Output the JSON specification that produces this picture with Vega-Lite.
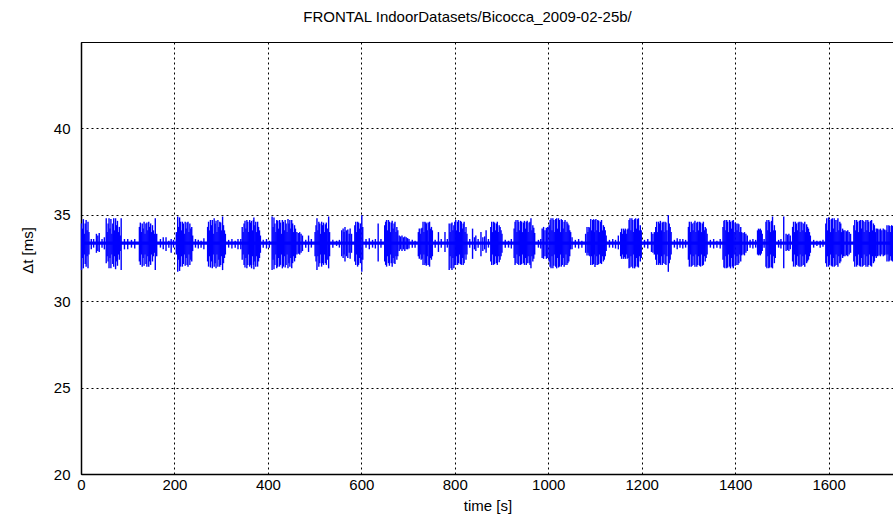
{
"$schema":"https://vega.github.io/schema/vega-lite/v6.json",
"width":813,"height":432,
"autosize":{"type":"none"},
"padding":{"left":81,"top":42,"right":0,"bottom":45},
"background":"white",
"title":{"text":"FRONTAL IndoorDatasets/Bicocca_2009-02-25b/","font":"Liberation Sans","fontSize":15,"fontWeight":"normal","color":"black","offset":17,"anchor":"middle","dx":-20},
"config":{"view":{"stroke":"black","strokeWidth":1}},
"datasets":{
"base":[{"t0":0,"t1":1740,"lo":33.26,"hi":33.46}],
"sig":[
{"t":1,"lo":31.8,"hi":34.5},{"t":3,"lo":32.5,"hi":34.2},{"t":5,"lo":31.9,"hi":34.75},{"t":7,"lo":32.7,"hi":33.9},{"t":9,"lo":32.15,"hi":34.5},{"t":11,"lo":32.0,"hi":34.7},{"t":13,"lo":32.6,"hi":34.1},{"t":15,"lo":31.9,"hi":34.6},{"t":17,"lo":32.7,"hi":34.0},
{"t":22,"lo":33.0,"hi":33.6},{"t":27,"lo":33.1,"hi":33.6},{"t":33,"lo":32.8,"hi":33.9},{"t":36,"lo":32.9,"hi":33.8},{"t":39,"lo":32.85,"hi":33.95},{"t":45,"lo":33.1,"hi":33.6},{"t":50,"lo":33.0,"hi":33.7},
{"t":54,"lo":32.2,"hi":34.8},{"t":56,"lo":32.6,"hi":34.0},{"t":58,"lo":32.3,"hi":34.5},{"t":60,"lo":31.9,"hi":34.8},{"t":62,"lo":32.5,"hi":34.2},{"t":64,"lo":31.9,"hi":34.75},{"t":66,"lo":32.7,"hi":33.9},{"t":68,"lo":32.15,"hi":34.5},{"t":70,"lo":32.0,"hi":34.8},{"t":72,"lo":32.6,"hi":34.1},{"t":74,"lo":31.85,"hi":34.8},{"t":76,"lo":32.3,"hi":34.4},{"t":78,"lo":32.05,"hi":34.65},{"t":80,"lo":32.7,"hi":34.0},{"t":82,"lo":32.4,"hi":34.3},{"t":84,"lo":32.9,"hi":33.8},{"t":86,"lo":31.8,"hi":34.8},
{"t":93,"lo":33.0,"hi":33.6},{"t":100,"lo":33.0,"hi":33.6},{"t":108,"lo":33.1,"hi":33.55},{"t":115,"lo":33.05,"hi":33.6},
{"t":125,"lo":32.3,"hi":34.3},{"t":127,"lo":32.1,"hi":34.55},{"t":129,"lo":32.7,"hi":34.0},{"t":131,"lo":32.0,"hi":34.5},{"t":133,"lo":32.5,"hi":34.2},{"t":135,"lo":32.05,"hi":34.6},{"t":137,"lo":32.7,"hi":33.9},{"t":139,"lo":32.15,"hi":34.5},{"t":141,"lo":32.0,"hi":34.55},{"t":143,"lo":32.6,"hi":34.1},{"t":145,"lo":32.0,"hi":34.6},{"t":147,"lo":32.3,"hi":34.3},{"t":149,"lo":32.1,"hi":34.5},{"t":151,"lo":32.7,"hi":34.0},{"t":153,"lo":32.3,"hi":34.4},{"t":155,"lo":32.6,"hi":34.1},{"t":157,"lo":32.8,"hi":33.9},{"t":159,"lo":31.8,"hi":34.8},{"t":162,"lo":32.6,"hi":33.9},
{"t":170,"lo":33.1,"hi":33.6},{"t":176,"lo":33.0,"hi":33.7},{"t":182,"lo":32.9,"hi":33.7},{"t":188,"lo":33.1,"hi":33.5},{"t":193,"lo":32.8,"hi":33.6},{"t":198,"lo":33.1,"hi":33.55},
{"t":204,"lo":32.7,"hi":34.0},{"t":207,"lo":31.7,"hi":34.9},{"t":209,"lo":32.4,"hi":34.3},{"t":211,"lo":31.75,"hi":34.85},{"t":213,"lo":32.0,"hi":34.6},{"t":215,"lo":32.6,"hi":34.1},{"t":217,"lo":32.0,"hi":34.6},{"t":219,"lo":32.15,"hi":34.5},{"t":221,"lo":32.7,"hi":33.9},{"t":223,"lo":32.05,"hi":34.6},{"t":225,"lo":32.5,"hi":34.2},{"t":227,"lo":32.1,"hi":34.55},{"t":229,"lo":32.0,"hi":34.6},{"t":231,"lo":32.7,"hi":34.0},{"t":233,"lo":32.1,"hi":34.5},{"t":235,"lo":32.4,"hi":34.2},{"t":237,"lo":32.3,"hi":34.3},{"t":239,"lo":32.9,"hi":33.8},
{"t":245,"lo":33.1,"hi":33.6},{"t":251,"lo":33.05,"hi":33.55},{"t":257,"lo":33.1,"hi":33.5},{"t":263,"lo":33.0,"hi":33.65},
{"t":271,"lo":32.3,"hi":34.3},{"t":273,"lo":32.0,"hi":34.6},{"t":275,"lo":32.6,"hi":34.1},{"t":277,"lo":31.95,"hi":34.7},{"t":279,"lo":32.3,"hi":34.4},{"t":281,"lo":31.9,"hi":34.7},{"t":283,"lo":32.7,"hi":33.9},{"t":285,"lo":32.0,"hi":34.8},{"t":287,"lo":32.2,"hi":34.5},{"t":289,"lo":31.9,"hi":34.65},{"t":291,"lo":32.7,"hi":34.0},{"t":293,"lo":32.0,"hi":34.7},{"t":295,"lo":32.4,"hi":34.3},{"t":297,"lo":32.0,"hi":34.6},{"t":299,"lo":32.1,"hi":34.55},{"t":301,"lo":32.6,"hi":34.1},{"t":303,"lo":31.8,"hi":34.9},{"t":305,"lo":32.2,"hi":34.4},{"t":307,"lo":32.5,"hi":34.1},{"t":309,"lo":32.7,"hi":33.9},
{"t":316,"lo":33.1,"hi":33.55},{"t":323,"lo":33.05,"hi":33.6},{"t":330,"lo":33.1,"hi":33.5},{"t":336,"lo":33.0,"hi":33.6},{"t":342,"lo":33.0,"hi":33.6},
{"t":345,"lo":32.4,"hi":34.3},{"t":347,"lo":32.7,"hi":34.0},{"t":349,"lo":32.1,"hi":34.5},{"t":351,"lo":31.95,"hi":34.65},{"t":353,"lo":32.5,"hi":34.2},{"t":355,"lo":31.9,"hi":34.7},{"t":357,"lo":32.1,"hi":34.6},{"t":359,"lo":32.7,"hi":34.0},{"t":361,"lo":32.0,"hi":34.7},{"t":363,"lo":32.1,"hi":34.55},{"t":365,"lo":31.9,"hi":34.65},{"t":367,"lo":32.6,"hi":34.1},{"t":369,"lo":32.1,"hi":34.7},{"t":370,"lo":31.85,"hi":34.85},{"t":372,"lo":32.3,"hi":34.4},{"t":374,"lo":32.0,"hi":34.6},{"t":376,"lo":32.6,"hi":34.0},{"t":378,"lo":32.0,"hi":34.6},{"t":380,"lo":32.3,"hi":34.3},{"t":382,"lo":32.5,"hi":34.1},{"t":384,"lo":32.8,"hi":33.8},
{"t":390,"lo":33.1,"hi":33.55},{"t":397,"lo":33.05,"hi":33.6},{"t":403,"lo":33.1,"hi":33.5},
{"t":409,"lo":31.8,"hi":34.9},{"t":411,"lo":32.4,"hi":34.3},{"t":413,"lo":31.85,"hi":34.85},{"t":415,"lo":32.1,"hi":34.5},{"t":417,"lo":32.7,"hi":34.0},{"t":419,"lo":31.9,"hi":34.7},{"t":421,"lo":32.0,"hi":34.65},{"t":423,"lo":32.5,"hi":34.2},{"t":425,"lo":32.0,"hi":34.7},{"t":427,"lo":32.1,"hi":34.55},{"t":429,"lo":32.7,"hi":33.9},{"t":431,"lo":31.9,"hi":34.7},{"t":433,"lo":32.0,"hi":34.6},{"t":435,"lo":32.6,"hi":34.1},{"t":437,"lo":31.95,"hi":34.7},{"t":439,"lo":32.1,"hi":34.5},{"t":441,"lo":32.7,"hi":34.0},{"t":443,"lo":31.9,"hi":34.75},{"t":445,"lo":32.2,"hi":34.5},{"t":447,"lo":32.0,"hi":34.7},{"t":449,"lo":32.5,"hi":34.2},{"t":451,"lo":31.9,"hi":34.7},{"t":453,"lo":32.2,"hi":34.5},{"t":455,"lo":32.6,"hi":34.0},{"t":457,"lo":32.3,"hi":34.4},{"t":459,"lo":32.5,"hi":34.2},{"t":462,"lo":32.7,"hi":34.0},{"t":465,"lo":32.75,"hi":33.95},{"t":468,"lo":32.7,"hi":34.0},{"t":471,"lo":32.8,"hi":33.9},{"t":474,"lo":32.9,"hi":33.8},
{"t":481,"lo":33.1,"hi":33.55},{"t":487,"lo":32.85,"hi":33.8},{"t":493,"lo":33.1,"hi":33.6},
{"t":501,"lo":32.6,"hi":34.0},{"t":503,"lo":32.3,"hi":34.4},{"t":505,"lo":31.8,"hi":34.8},{"t":507,"lo":32.6,"hi":34.1},{"t":509,"lo":32.0,"hi":34.6},{"t":511,"lo":32.2,"hi":34.5},{"t":513,"lo":32.7,"hi":33.9},{"t":515,"lo":32.0,"hi":34.6},{"t":517,"lo":32.2,"hi":34.4},{"t":519,"lo":32.1,"hi":34.55},{"t":521,"lo":32.7,"hi":34.0},{"t":523,"lo":32.2,"hi":34.45},{"t":525,"lo":32.1,"hi":34.55},{"t":527,"lo":32.4,"hi":34.2},{"t":530,"lo":31.9,"hi":34.9},{"t":532,"lo":32.6,"hi":34.0},
{"t":539,"lo":33.1,"hi":33.55},{"t":547,"lo":33.2,"hi":33.5},{"t":553,"lo":33.1,"hi":33.55},
{"t":558,"lo":32.6,"hi":34.1},{"t":561,"lo":32.5,"hi":34.2},{"t":563,"lo":32.7,"hi":34.0},{"t":565,"lo":32.3,"hi":34.3},{"t":568,"lo":32.6,"hi":34.1},{"t":571,"lo":32.5,"hi":34.15},{"t":574,"lo":32.8,"hi":33.9},{"t":576,"lo":32.45,"hi":34.2},{"t":579,"lo":32.8,"hi":33.9},
{"t":586,"lo":32.3,"hi":34.4},{"t":588,"lo":32.1,"hi":34.6},{"t":590,"lo":32.7,"hi":34.0},{"t":592,"lo":32.0,"hi":34.6},{"t":594,"lo":32.1,"hi":34.55},{"t":596,"lo":32.5,"hi":34.2},{"t":598,"lo":32.2,"hi":34.5},{"t":601,"lo":31.7,"hi":34.98},{"t":603,"lo":32.4,"hi":34.3},
{"t":610,"lo":33.1,"hi":33.6},{"t":617,"lo":33.0,"hi":33.65},{"t":624,"lo":33.1,"hi":33.55},{"t":630,"lo":33.05,"hi":33.6},{"t":636,"lo":32.3,"hi":34.5},{"t":642,"lo":33.1,"hi":33.6},
{"t":650,"lo":32.3,"hi":34.4},{"t":652,"lo":32.1,"hi":34.6},{"t":654,"lo":32.0,"hi":34.7},{"t":656,"lo":32.6,"hi":34.1},{"t":658,"lo":32.2,"hi":34.7},{"t":660,"lo":32.05,"hi":34.6},{"t":662,"lo":32.7,"hi":34.0},{"t":664,"lo":32.2,"hi":34.55},{"t":666,"lo":32.0,"hi":34.65},{"t":668,"lo":32.5,"hi":34.2},{"t":670,"lo":32.2,"hi":34.5},{"t":672,"lo":32.15,"hi":34.6},{"t":674,"lo":32.6,"hi":34.0},{"t":676,"lo":32.4,"hi":34.3},{"t":678,"lo":32.6,"hi":34.1},
{"t":681,"lo":32.9,"hi":33.8},{"t":684,"lo":33.0,"hi":33.75},{"t":687,"lo":32.9,"hi":33.8},{"t":690,"lo":33.0,"hi":33.7},{"t":693,"lo":32.9,"hi":33.75},{"t":696,"lo":33.0,"hi":33.7},{"t":699,"lo":33.0,"hi":33.65},{"t":702,"lo":33.05,"hi":33.6},{"t":709,"lo":33.1,"hi":33.55},{"t":715,"lo":33.1,"hi":33.5},
{"t":722,"lo":32.6,"hi":34.0},{"t":724,"lo":32.45,"hi":34.2},{"t":726,"lo":32.7,"hi":33.9},{"t":728,"lo":32.4,"hi":34.2},{"t":730,"lo":32.45,"hi":34.25},{"t":732,"lo":32.1,"hi":34.6},{"t":734,"lo":32.7,"hi":34.0},{"t":736,"lo":32.1,"hi":34.6},{"t":738,"lo":32.2,"hi":34.55},{"t":739,"lo":32.05,"hi":34.5},{"t":741,"lo":32.6,"hi":34.1},{"t":743,"lo":32.1,"hi":34.55},{"t":746,"lo":32.0,"hi":34.6},{"t":748,"lo":32.5,"hi":34.2},{"t":750,"lo":32.4,"hi":34.3},{"t":752,"lo":32.6,"hi":34.1},
{"t":758,"lo":33.1,"hi":33.55},{"t":765,"lo":32.85,"hi":34.0},{"t":771,"lo":33.1,"hi":33.6},{"t":779,"lo":32.85,"hi":34.0},{"t":784,"lo":33.1,"hi":33.6},
{"t":788,"lo":31.8,"hi":34.5},{"t":790,"lo":32.6,"hi":34.0},{"t":792,"lo":31.9,"hi":34.5},{"t":794,"lo":31.8,"hi":34.55},{"t":796,"lo":32.5,"hi":34.1},{"t":798,"lo":31.9,"hi":34.4},{"t":800,"lo":32.1,"hi":34.6},{"t":802,"lo":32.1,"hi":34.7},{"t":804,"lo":32.6,"hi":34.1},{"t":806,"lo":32.1,"hi":34.6},{"t":808,"lo":32.2,"hi":34.7},{"t":810,"lo":32.7,"hi":34.0},{"t":812,"lo":32.15,"hi":34.65},{"t":814,"lo":32.1,"hi":34.6},{"t":816,"lo":32.5,"hi":34.2},{"t":818,"lo":32.1,"hi":34.5},{"t":820,"lo":32.2,"hi":34.6},{"t":822,"lo":32.7,"hi":34.0},{"t":824,"lo":32.4,"hi":34.3},{"t":826,"lo":32.7,"hi":33.9},
{"t":832,"lo":33.1,"hi":33.6},{"t":838,"lo":32.45,"hi":34.2},{"t":842,"lo":33.0,"hi":33.7},{"t":845,"lo":32.9,"hi":33.8},{"t":850,"lo":33.1,"hi":33.6},{"t":856,"lo":32.6,"hi":34.0},{"t":860,"lo":32.9,"hi":33.7},{"t":864,"lo":33.0,"hi":33.75},{"t":867,"lo":32.8,"hi":34.1},{"t":872,"lo":33.1,"hi":33.6},
{"t":877,"lo":32.3,"hi":34.3},{"t":879,"lo":32.1,"hi":34.6},{"t":881,"lo":32.7,"hi":34.0},{"t":883,"lo":32.1,"hi":34.6},{"t":885,"lo":32.15,"hi":34.55},{"t":887,"lo":32.6,"hi":34.1},{"t":889,"lo":32.2,"hi":34.5},{"t":891,"lo":32.1,"hi":34.6},{"t":893,"lo":32.6,"hi":34.0},{"t":895,"lo":32.25,"hi":34.4},{"t":897,"lo":32.4,"hi":34.3},{"t":899,"lo":32.6,"hi":34.1},{"t":901,"lo":32.8,"hi":33.9},
{"t":908,"lo":33.1,"hi":33.55},{"t":915,"lo":33.1,"hi":33.5},{"t":921,"lo":33.05,"hi":33.6},
{"t":927,"lo":32.5,"hi":34.2},{"t":929,"lo":32.1,"hi":34.6},{"t":931,"lo":32.2,"hi":34.7},{"t":933,"lo":32.7,"hi":34.0},{"t":935,"lo":32.15,"hi":34.7},{"t":937,"lo":32.1,"hi":34.6},{"t":939,"lo":32.6,"hi":34.1},{"t":941,"lo":32.1,"hi":34.65},{"t":943,"lo":32.15,"hi":34.6},{"t":945,"lo":32.7,"hi":34.0},{"t":947,"lo":32.2,"hi":34.55},{"t":949,"lo":32.1,"hi":34.65},{"t":951,"lo":32.5,"hi":34.2},{"t":953,"lo":32.1,"hi":34.6},{"t":955,"lo":32.2,"hi":34.65},{"t":957,"lo":32.6,"hi":34.0},{"t":959,"lo":32.2,"hi":34.55},{"t":961,"lo":32.1,"hi":34.6},{"t":963,"lo":31.9,"hi":34.8},{"t":965,"lo":32.6,"hi":34.1},{"t":967,"lo":32.3,"hi":34.4},{"t":969,"lo":32.45,"hi":34.25},{"t":971,"lo":32.7,"hi":33.95},
{"t":979,"lo":33.1,"hi":33.55},{"t":984,"lo":33.05,"hi":33.6},
{"t":987,"lo":32.5,"hi":34.2},{"t":990,"lo":32.45,"hi":34.3},{"t":993,"lo":32.6,"hi":34.1},{"t":996,"lo":32.45,"hi":34.25},{"t":999,"lo":32.5,"hi":34.3},
{"t":1002,"lo":32.3,"hi":34.4},{"t":1004,"lo":32.0,"hi":34.7},{"t":1006,"lo":31.9,"hi":34.8},{"t":1008,"lo":32.6,"hi":34.1},{"t":1010,"lo":31.9,"hi":34.8},{"t":1012,"lo":32.05,"hi":34.7},{"t":1014,"lo":32.7,"hi":34.0},{"t":1016,"lo":32.0,"hi":34.75},{"t":1018,"lo":31.9,"hi":34.8},{"t":1020,"lo":32.5,"hi":34.2},{"t":1022,"lo":31.95,"hi":34.8},{"t":1024,"lo":32.0,"hi":34.7},{"t":1026,"lo":32.7,"hi":34.0},{"t":1028,"lo":32.0,"hi":34.75},{"t":1030,"lo":32.1,"hi":34.7},{"t":1032,"lo":32.5,"hi":34.2},{"t":1034,"lo":32.0,"hi":34.6},{"t":1036,"lo":32.1,"hi":34.7},{"t":1038,"lo":32.7,"hi":34.0},{"t":1040,"lo":32.1,"hi":34.6},{"t":1042,"lo":32.2,"hi":34.5},{"t":1044,"lo":32.3,"hi":34.4},{"t":1046,"lo":32.6,"hi":34.1},{"t":1048,"lo":33.0,"hi":34.0},{"t":1051,"lo":33.0,"hi":33.7},
{"t":1058,"lo":33.1,"hi":33.55},{"t":1065,"lo":33.05,"hi":33.6},{"t":1072,"lo":33.1,"hi":33.5},
{"t":1080,"lo":32.8,"hi":33.9},{"t":1083,"lo":32.65,"hi":34.3},{"t":1085,"lo":32.8,"hi":34.0},{"t":1087,"lo":32.65,"hi":34.3},{"t":1089,"lo":32.6,"hi":34.25},{"t":1091,"lo":32.1,"hi":34.75},{"t":1093,"lo":32.6,"hi":34.1},{"t":1095,"lo":32.1,"hi":34.7},{"t":1097,"lo":32.15,"hi":34.75},{"t":1099,"lo":32.7,"hi":34.0},{"t":1100,"lo":31.98,"hi":34.7},{"t":1102,"lo":32.1,"hi":34.75},{"t":1104,"lo":32.6,"hi":34.1},{"t":1106,"lo":32.1,"hi":34.7},{"t":1108,"lo":32.15,"hi":34.65},{"t":1110,"lo":32.7,"hi":34.0},{"t":1112,"lo":32.2,"hi":34.6},{"t":1114,"lo":32.15,"hi":34.7},{"t":1116,"lo":32.6,"hi":34.1},{"t":1118,"lo":32.3,"hi":34.4},{"t":1120,"lo":32.4,"hi":34.3},{"t":1122,"lo":32.6,"hi":34.1},{"t":1124,"lo":32.9,"hi":33.8},
{"t":1131,"lo":33.1,"hi":33.55},{"t":1138,"lo":33.1,"hi":33.6},{"t":1144,"lo":33.05,"hi":33.55},{"t":1150,"lo":33.0,"hi":33.8},
{"t":1155,"lo":32.6,"hi":34.0},{"t":1157,"lo":32.45,"hi":34.2},{"t":1159,"lo":32.7,"hi":33.9},{"t":1161,"lo":32.45,"hi":34.2},{"t":1163,"lo":32.55,"hi":34.1},{"t":1165,"lo":32.45,"hi":34.2},{"t":1167,"lo":32.7,"hi":33.9},{"t":1169,"lo":32.45,"hi":34.15},{"t":1171,"lo":32.5,"hi":34.2},{"t":1173,"lo":31.9,"hi":34.7},{"t":1175,"lo":31.95,"hi":34.8},{"t":1177,"lo":32.6,"hi":34.1},{"t":1179,"lo":32.0,"hi":34.8},{"t":1181,"lo":31.9,"hi":34.7},{"t":1183,"lo":32.7,"hi":34.0},{"t":1185,"lo":31.9,"hi":34.75},{"t":1187,"lo":32.0,"hi":34.8},{"t":1189,"lo":32.5,"hi":34.2},{"t":1191,"lo":32.0,"hi":34.75},{"t":1193,"lo":31.95,"hi":34.8},{"t":1195,"lo":32.6,"hi":34.1},{"t":1197,"lo":32.3,"hi":34.4},{"t":1199,"lo":32.5,"hi":34.1},
{"t":1206,"lo":33.1,"hi":33.55},{"t":1213,"lo":33.05,"hi":33.6},
{"t":1221,"lo":32.85,"hi":34.0},{"t":1224,"lo":32.8,"hi":33.9},{"t":1227,"lo":32.7,"hi":34.0},{"t":1230,"lo":32.4,"hi":34.3},{"t":1232,"lo":32.1,"hi":34.6},{"t":1234,"lo":32.7,"hi":34.0},{"t":1236,"lo":32.1,"hi":34.6},{"t":1238,"lo":32.2,"hi":34.5},{"t":1240,"lo":32.1,"hi":34.65},{"t":1242,"lo":32.6,"hi":34.1},{"t":1244,"lo":32.1,"hi":34.55},{"t":1246,"lo":32.2,"hi":34.6},{"t":1248,"lo":32.7,"hi":34.0},{"t":1250,"lo":32.15,"hi":34.6},{"t":1252,"lo":32.1,"hi":34.55},{"t":1254,"lo":32.6,"hi":34.1},{"t":1257,"lo":31.7,"hi":34.98},{"t":1259,"lo":32.2,"hi":34.5},{"t":1261,"lo":32.4,"hi":34.3},{"t":1263,"lo":32.7,"hi":34.0},
{"t":1270,"lo":33.1,"hi":33.55},{"t":1276,"lo":33.0,"hi":33.65},{"t":1282,"lo":33.1,"hi":33.6},{"t":1288,"lo":33.05,"hi":33.6},{"t":1294,"lo":33.1,"hi":33.55},
{"t":1300,"lo":32.4,"hi":34.3},{"t":1302,"lo":32.0,"hi":34.6},{"t":1304,"lo":32.7,"hi":34.0},{"t":1306,"lo":32.0,"hi":34.6},{"t":1308,"lo":32.05,"hi":34.5},{"t":1310,"lo":32.6,"hi":34.1},{"t":1312,"lo":32.1,"hi":34.55},{"t":1314,"lo":32.0,"hi":34.65},{"t":1316,"lo":32.7,"hi":34.0},{"t":1318,"lo":32.0,"hi":34.55},{"t":1320,"lo":32.1,"hi":34.6},{"t":1322,"lo":32.6,"hi":34.1},{"t":1324,"lo":32.05,"hi":34.6},{"t":1326,"lo":32.0,"hi":34.55},{"t":1328,"lo":32.7,"hi":34.0},{"t":1330,"lo":32.05,"hi":34.5},{"t":1332,"lo":32.1,"hi":34.6},{"t":1334,"lo":32.6,"hi":34.1},{"t":1336,"lo":32.3,"hi":34.3},{"t":1338,"lo":32.5,"hi":34.2},{"t":1340,"lo":32.7,"hi":33.9},
{"t":1347,"lo":33.1,"hi":33.55},{"t":1354,"lo":33.05,"hi":33.6},{"t":1361,"lo":33.1,"hi":33.5},{"t":1368,"lo":33.05,"hi":33.6},
{"t":1374,"lo":32.4,"hi":34.3},{"t":1376,"lo":31.95,"hi":34.65},{"t":1378,"lo":31.9,"hi":34.7},{"t":1380,"lo":32.6,"hi":34.1},{"t":1382,"lo":31.9,"hi":34.7},{"t":1384,"lo":31.95,"hi":34.6},{"t":1386,"lo":32.7,"hi":34.0},{"t":1388,"lo":32.0,"hi":34.7},{"t":1390,"lo":31.9,"hi":34.6},{"t":1392,"lo":32.5,"hi":34.2},{"t":1394,"lo":32.0,"hi":34.65},{"t":1396,"lo":31.9,"hi":34.7},{"t":1398,"lo":32.7,"hi":34.0},{"t":1400,"lo":32.05,"hi":34.55},{"t":1402,"lo":32.1,"hi":34.5},{"t":1404,"lo":32.6,"hi":34.1},{"t":1406,"lo":32.1,"hi":34.5},{"t":1408,"lo":32.2,"hi":34.45},{"t":1410,"lo":32.7,"hi":34.0},{"t":1412,"lo":32.3,"hi":34.3},
{"t":1414,"lo":32.65,"hi":34.0},{"t":1417,"lo":32.7,"hi":33.95},{"t":1420,"lo":32.65,"hi":34.0},{"t":1423,"lo":32.8,"hi":33.9},{"t":1426,"lo":32.9,"hi":33.8},
{"t":1432,"lo":33.1,"hi":33.55},{"t":1438,"lo":33.05,"hi":33.6},{"t":1444,"lo":33.1,"hi":33.55},
{"t":1448,"lo":32.7,"hi":34.1},{"t":1450,"lo":32.65,"hi":34.2},{"t":1452,"lo":32.7,"hi":34.15},{"t":1454,"lo":32.65,"hi":34.2},{"t":1456,"lo":32.75,"hi":34.1},{"t":1458,"lo":32.9,"hi":33.9},{"t":1462,"lo":33.1,"hi":33.6},
{"t":1466,"lo":32.0,"hi":34.6},{"t":1468,"lo":31.9,"hi":34.7},{"t":1470,"lo":32.6,"hi":34.1},{"t":1472,"lo":31.9,"hi":34.7},{"t":1474,"lo":31.95,"hi":34.6},{"t":1476,"lo":32.7,"hi":34.0},{"t":1478,"lo":31.95,"hi":34.65},{"t":1480,"lo":31.9,"hi":34.9},{"t":1482,"lo":32.6,"hi":34.1},{"t":1484,"lo":32.2,"hi":34.4},{"t":1486,"lo":32.5,"hi":34.1},
{"t":1493,"lo":33.1,"hi":33.55},{"t":1498,"lo":33.05,"hi":33.6},{"t":1504,"lo":31.9,"hi":34.9},
{"t":1509,"lo":32.9,"hi":33.9},{"t":1512,"lo":32.95,"hi":33.85},{"t":1515,"lo":32.9,"hi":33.9},{"t":1518,"lo":33.0,"hi":33.8},
{"t":1523,"lo":32.3,"hi":34.3},{"t":1525,"lo":32.0,"hi":34.6},{"t":1527,"lo":32.7,"hi":34.0},{"t":1529,"lo":32.0,"hi":34.6},{"t":1531,"lo":32.1,"hi":34.5},{"t":1533,"lo":32.6,"hi":34.1},{"t":1535,"lo":32.05,"hi":34.55},{"t":1537,"lo":32.0,"hi":34.6},{"t":1539,"lo":32.7,"hi":34.0},{"t":1541,"lo":32.0,"hi":34.6},{"t":1543,"lo":32.05,"hi":34.55},{"t":1545,"lo":32.6,"hi":34.1},{"t":1547,"lo":32.1,"hi":34.5},{"t":1549,"lo":32.0,"hi":34.6},{"t":1551,"lo":32.7,"hi":34.0},{"t":1553,"lo":32.2,"hi":34.45},{"t":1555,"lo":32.3,"hi":34.3},{"t":1557,"lo":32.4,"hi":34.2},{"t":1559,"lo":32.6,"hi":34.0},{"t":1561,"lo":32.8,"hi":33.8},
{"t":1568,"lo":33.1,"hi":33.55},{"t":1575,"lo":33.2,"hi":33.5},{"t":1582,"lo":33.1,"hi":33.5},{"t":1588,"lo":33.15,"hi":33.55},
{"t":1594,"lo":32.2,"hi":34.5},{"t":1596,"lo":32.0,"hi":34.8},{"t":1598,"lo":32.6,"hi":34.1},{"t":1600,"lo":32.0,"hi":34.85},{"t":1602,"lo":32.1,"hi":34.7},{"t":1604,"lo":32.7,"hi":34.0},{"t":1606,"lo":32.05,"hi":34.75},{"t":1608,"lo":32.0,"hi":34.8},{"t":1610,"lo":32.5,"hi":34.2},{"t":1612,"lo":32.0,"hi":34.8},{"t":1614,"lo":32.05,"hi":34.7},{"t":1616,"lo":32.7,"hi":34.0},{"t":1618,"lo":32.1,"hi":34.7},{"t":1620,"lo":32.0,"hi":34.8},{"t":1622,"lo":32.6,"hi":34.1},{"t":1624,"lo":32.2,"hi":34.6},{"t":1626,"lo":32.3,"hi":34.5},{"t":1628,"lo":32.7,"hi":34.0},{"t":1630,"lo":32.5,"hi":34.2},{"t":1632,"lo":32.6,"hi":34.1},
{"t":1635,"lo":32.6,"hi":34.1},{"t":1638,"lo":32.65,"hi":34.05},{"t":1641,"lo":32.6,"hi":34.1},{"t":1644,"lo":32.7,"hi":34.0},{"t":1647,"lo":32.8,"hi":33.9},
{"t":1654,"lo":32.3,"hi":34.4},{"t":1656,"lo":32.0,"hi":34.7},{"t":1658,"lo":32.6,"hi":34.1},{"t":1660,"lo":32.0,"hi":34.7},{"t":1662,"lo":32.1,"hi":34.6},{"t":1664,"lo":32.7,"hi":34.0},{"t":1666,"lo":32.05,"hi":34.65},{"t":1668,"lo":32.0,"hi":34.7},{"t":1670,"lo":32.5,"hi":34.2},{"t":1672,"lo":32.0,"hi":34.7},{"t":1674,"lo":32.05,"hi":34.65},{"t":1676,"lo":32.7,"hi":34.0},{"t":1678,"lo":32.1,"hi":34.6},{"t":1680,"lo":32.0,"hi":34.7},{"t":1682,"lo":32.6,"hi":34.1},{"t":1684,"lo":32.0,"hi":34.7},{"t":1686,"lo":32.1,"hi":34.6},{"t":1688,"lo":32.7,"hi":34.0},{"t":1690,"lo":32.05,"hi":34.65},{"t":1692,"lo":32.0,"hi":34.7},{"t":1694,"lo":32.6,"hi":34.1},{"t":1696,"lo":32.2,"hi":34.5},{"t":1698,"lo":32.3,"hi":34.4},{"t":1700,"lo":32.6,"hi":34.0},{"t":1702,"lo":32.5,"hi":34.2},
{"t":1705,"lo":32.6,"hi":34.2},{"t":1708,"lo":32.65,"hi":34.15},{"t":1711,"lo":32.6,"hi":34.2},{"t":1714,"lo":32.7,"hi":34.1},{"t":1717,"lo":32.6,"hi":34.2},{"t":1720,"lo":32.65,"hi":34.15},{"t":1723,"lo":32.7,"hi":34.1},
{"t":1725,"lo":32.3,"hi":34.4},{"t":1727,"lo":32.7,"hi":34.0},{"t":1729,"lo":32.3,"hi":34.4},{"t":1731,"lo":32.35,"hi":34.35},{"t":1733,"lo":32.6,"hi":34.0},{"t":1735,"lo":32.35,"hi":34.4},{"t":1737,"lo":32.3,"hi":34.35}
]},
"layer":[
{"data":{"name":"sig"},
 "mark":{"type":"rule","color":"#0000ff","strokeWidth":1.4},
 "encoding":{
  "x":{"field":"t","type":"quantitative","scale":{"domain":[0,1740],"nice":false,"zero":false},
   "axis":{"values":[0,200,400,600,800,1000,1200,1400,1600],"format":"d","grid":true,"gridColor":"black","gridDash":[2,3],"gridOpacity":1,"gridWidth":1,"ticks":false,"domainColor":"black","domainWidth":1.5,"labelFont":"Liberation Sans","labelFontSize":15,"labelColor":"black","labelPadding":3,"labelFlush":false,"title":"time [s]","titleFont":"Liberation Sans","titleFontSize":15,"titleFontWeight":"normal","titleColor":"black","titleBaseline":"middle","titleY":31}},
  "y":{"field":"lo","type":"quantitative","scale":{"domain":[20,45],"nice":false,"zero":false},
   "axis":{"values":[20,25,30,35,40],"format":"d","grid":true,"gridColor":"black","gridDash":[2,3],"gridOpacity":1,"gridWidth":1,"ticks":false,"domainColor":"black","domainWidth":1.5,"labelFont":"Liberation Sans","labelFontSize":15,"labelColor":"black","labelPadding":11,"labelFlush":false,"title":"Δt [ms]","titleFont":"Liberation Sans","titleFontSize":15,"titleFontWeight":"normal","titleColor":"black","titleAngle":-90,"titleBaseline":"middle","titleAlign":"center","titleX":-54,"titleY":208}},
  "y2":{"field":"hi"}}},
{"data":{"name":"base"},
 "mark":{"type":"rect","color":"#0000ff"},
 "encoding":{
  "x":{"field":"t0","type":"quantitative"},
  "x2":{"field":"t1"},
  "y":{"field":"lo","type":"quantitative"},
  "y2":{"field":"hi"}}}
]
}
